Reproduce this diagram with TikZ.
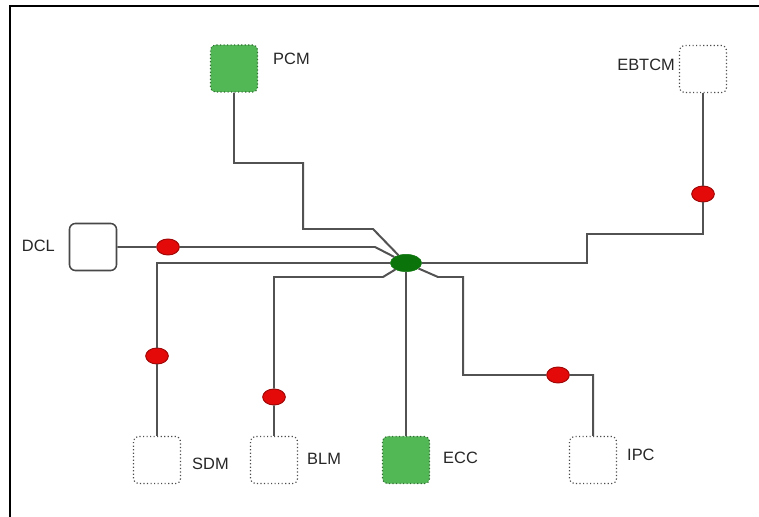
\documentclass[tikz,border=0pt]{standalone}
\usepackage{fontspec}
\setmainfont{Liberation Sans}
\usetikzlibrary{positioning,shapes.geometric}
\definecolor{ecugreen}{RGB}{82,183,85}
\definecolor{hubgreen}{RGB}{10,115,10}
\definecolor{faultred}{RGB}{228,10,10}

\begin{document}
\begin{tikzpicture}[
  x=0.03cm, y=-0.03cm,
  every node/.style={font=\fontsize{14}{16}\selectfont},
  ecubox/.style={rectangle, rounded corners=4pt, draw=black!70, dotted, line width=1pt,
    minimum size=1.41cm, inner sep=0pt},
  ecuon/.style={ecubox, fill=ecugreen, draw=ecugreen!60!black},
  ecusolid/.style={rectangle, rounded corners=5pt, draw=black!72, line width=1.3pt,
    minimum size=1.41cm, inner sep=0pt},
  fault/.style={ellipse, fill=faultred, draw=faultred!70!black, line width=0.8pt,
    minimum width=0.68cm, minimum height=0.48cm, inner sep=0pt},
  hubnode/.style={ellipse, fill=hubgreen, draw=hubgreen, minimum width=0.94cm,
    minimum height=0.52cm, inner sep=0pt},
  wire/.style={draw=black!68, line width=1.7pt},
  lbl/.style={inner sep=0pt, text=black!85}
]
\useasboundingbox (0,0) rectangle (759,517);
\draw[line width=1.6pt] (10,517) -- (10,6) -- (759,6);

\node[hubnode] (hub) at (406,263) {};
\node[ecuon] (pcm) at (234,68.5) {};
\node[ecubox] (ebtcm) at (703,69) {};
\node[ecusolid] (dcl) at (93,247) {};
\node[ecubox] (sdm) at (157,460) {};
\node[ecubox] (blm) at (274,460) {};
\node[ecuon] (ecc) at (406,460) {};
\node[ecubox] (ipc) at (593,460) {};

\node[lbl, anchor=west] (pcmtxt) at (273,59) {PCM};
\node[lbl, anchor=east] (ebtcmtxt) at (675,65) {EBTCM};
\node[lbl, anchor=east] (dcltxt) at (55,246) {DCL};
\node[lbl, anchor=west] (sdmtxt) at (192,464) {SDM};
\node[lbl, anchor=west] (blmtxt) at (307,459) {BLM};
\node[lbl, anchor=west] (ecctxt) at (443,458) {ECC};
\node[lbl, anchor=west] (ipctxt) at (627,455) {IPC};

\node[fault] (fdcl) at (168,247) {};
\node[fault] (fsdm) at (157,356) {};
\node[fault] (fblm) at (274,397) {};
\node[fault] (fipc) at (558,375) {};
\node[fault] (febt) at (703,194) {};

\draw[wire] (pcm.south) |- (303,163) |- (373,229) -- (hub);
\draw[wire] (dcl.east) -- (fdcl) -- (375,247) -- (hub);
\draw[wire] (sdm.north) -- (fsdm) |- (hub);
\draw[wire] (blm.north) -- (fblm) |- (383,277) -- (hub);
\draw[wire] (hub) -- (ecc.north);
\draw[wire] (hub) -- (438,277) -- (463,277) |- (fipc) -| (ipc.north);
\draw[wire] (hub) -- (587,263) |- (703,234) -- (febt) -- (ebtcm.south);
\end{tikzpicture}
\end{document}
